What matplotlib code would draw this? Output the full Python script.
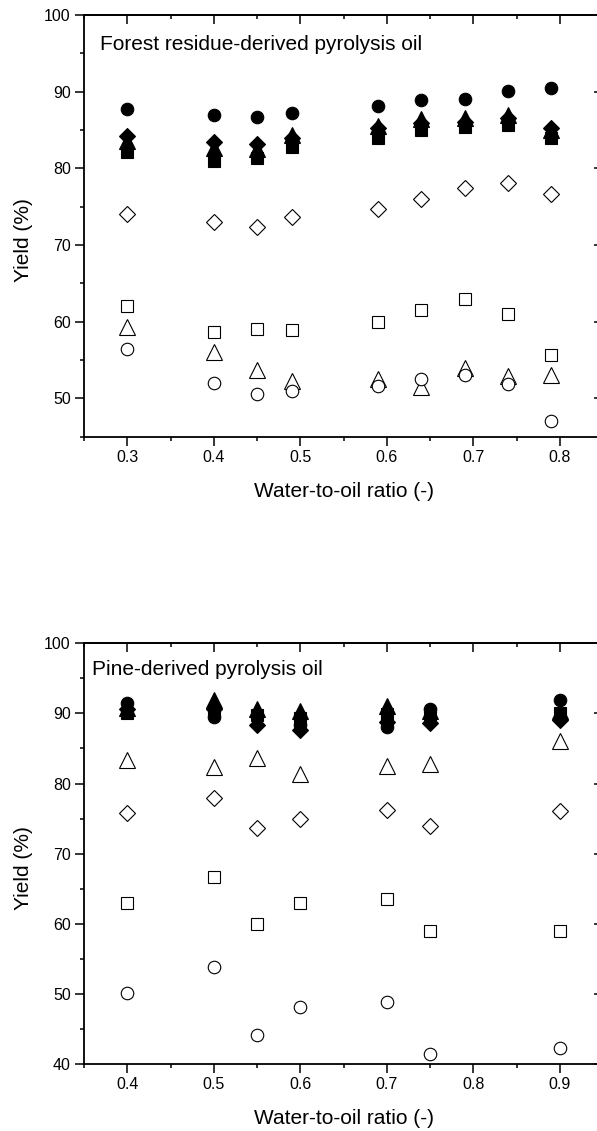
import matplotlib.pyplot as plt
from matplotlib.ticker import MultipleLocator

plt.rcParams['font.family'] = ['Liberation Sans', 'DejaVu Sans']

# --- forest residue-derived oil ---
x_forest = [0.30, 0.40, 0.45, 0.49, 0.59, 0.64, 0.69, 0.74, 0.79]
forest_circle_f = [87.8, 87.0, 86.7, 87.2, 88.1, 88.9, 89.1, 90.1, 90.5]
forest_diamond_f = [84.2, 83.4, 83.2, 84.0, 85.2, 85.9, 86.1, 86.6, 85.2]
forest_triangle_f = [83.6, 82.6, 82.5, 84.3, 85.5, 86.4, 86.6, 87.0, 85.0]
forest_square_f = [82.1, 81.0, 81.3, 82.8, 84.0, 85.0, 85.4, 85.7, 84.0]
forest_diamond_o = [74.1, 73.0, 72.3, 73.7, 74.7, 76.0, 77.4, 78.1, 76.7]
forest_square_o = [62.0, 58.7, 59.1, 58.9, 60.0, 61.5, 63.0, 61.0, 55.6]
forest_triangle_o = [59.3, 56.0, 53.7, 52.3, 52.5, 51.5, 54.0, 52.9, 53.0]
forest_circle_o = [56.5, 52.0, 50.6, 51.0, 51.6, 52.5, 53.0, 51.9, 47.0]

# --- pine-derived oil ---
x_pine = [0.40, 0.50, 0.55, 0.60, 0.70, 0.75, 0.90]
pine_circle_f = [91.5, 89.5, 89.6, 88.4, 88.0, 90.6, 91.9]
pine_diamond_f = [90.7, 90.6, 88.4, 87.7, 88.8, 88.7, 89.1]
pine_triangle_f = [90.8, 91.9, 90.6, 90.4, 91.1, 90.3, 90.4]
pine_square_f = [90.1, 90.5, 89.8, 89.4, 89.9, 89.9, 90.0]
pine_triangle_o = [83.4, 82.4, 83.7, 81.4, 82.5, 82.8, 86.0]
pine_diamond_o = [75.8, 77.9, 73.6, 75.0, 76.2, 74.0, 76.1]
pine_square_o = [62.9, 66.7, 59.9, 62.9, 63.6, 58.9, 58.9]
pine_circle_o = [50.1, 53.8, 44.2, 48.2, 48.9, 41.4, 42.3]

# marker shape -> (matplotlib marker, size in pt)
shapes = {'s': ('s', 8.0), '^': ('^', 11.0), 'D': ('D', 7.8), 'o': ('o', 9.0)}


def scatter(ax, x, y, m, filled):
    mk, ms = shapes[m]
    ax.plot(x, y, linestyle='none', marker=mk, ms=ms,
            mfc='black' if filled else 'white', mec='black', mew=0.8)


def style_axis(ax, xlim, ylim):
    ax.set_xlim(*xlim)
    ax.set_ylim(*ylim)
    ax.xaxis.set_major_locator(MultipleLocator(0.1))
    ax.xaxis.set_minor_locator(MultipleLocator(0.05))
    ax.yaxis.set_major_locator(MultipleLocator(10))
    ax.yaxis.set_minor_locator(MultipleLocator(5))
    ax.tick_params(which='major', direction='out', length=6.5, width=1.1,
                   labelsize=11.5, pad=3)
    ax.tick_params(which='minor', direction='out', length=3.2, width=1.1)
    for s in ax.spines.values():
        s.set_linewidth(1.3)
    # mirrored ticks on top and right pointing into the frame
    top = ax.secondary_xaxis('top')
    top.xaxis.set_major_locator(MultipleLocator(0.1))
    top.xaxis.set_minor_locator(MultipleLocator(0.05))
    right = ax.secondary_yaxis('right')
    right.yaxis.set_major_locator(MultipleLocator(10))
    right.yaxis.set_minor_locator(MultipleLocator(5))
    for sec in (top, right):
        sec.tick_params(which='major', direction='in', length=6.5, width=1.1)
        sec.tick_params(which='minor', direction='in', length=3.2, width=1.1)
        sec.tick_params(which='both', labeltop=False, labelright=False)
        for s in sec.spines.values():
            s.set_linewidth(1.3)
    ax.set_xlabel('Water-to-oil ratio (-)', fontsize=15, labelpad=12)
    ax.set_ylabel('Yield (%)', fontsize=15)
    ax.yaxis.set_label_coords(-0.098, 0.466)


fig = plt.figure(figsize=(5.97, 11.31), dpi=100)
ax1 = fig.add_axes([84 / 597, 1 - 436.7 / 1131, 519 / 597, 421.7 / 1131])
ax2 = fig.add_axes([84 / 597, 1 - 1064 / 1131, 519 / 597, 420.7 / 1131])

scatter(ax1, x_forest, forest_square_f, 's', True)
scatter(ax1, x_forest, forest_triangle_f, '^', True)
scatter(ax1, x_forest, forest_diamond_f, 'D', True)
scatter(ax1, x_forest, forest_circle_f, 'o', True)
scatter(ax1, x_forest, forest_diamond_o, 'D', False)
scatter(ax1, x_forest, forest_square_o, 's', False)
scatter(ax1, x_forest, forest_triangle_o, '^', False)
scatter(ax1, x_forest, forest_circle_o, 'o', False)
style_axis(ax1, (0.25, 0.85), (45, 100))
ax1.text(0.031, 0.917, 'Forest residue-derived pyrolysis oil', fontsize=15,
         va='baseline', transform=ax1.transAxes)

scatter(ax2, x_pine, pine_square_f, 's', True)
scatter(ax2, x_pine, pine_triangle_f, '^', True)
scatter(ax2, x_pine, pine_diamond_f, 'D', True)
scatter(ax2, x_pine, pine_circle_f, 'o', True)
scatter(ax2, x_pine, pine_triangle_o, '^', False)
scatter(ax2, x_pine, pine_diamond_o, 'D', False)
scatter(ax2, x_pine, pine_square_o, 's', False)
scatter(ax2, x_pine, pine_circle_o, 'o', False)
style_axis(ax2, (0.35, 0.95), (40, 100))
ax2.text(0.015, 0.925, 'Pine-derived pyrolysis oil', fontsize=15,
         va='baseline', transform=ax2.transAxes)

fig.savefig('out.png', dpi=100)
